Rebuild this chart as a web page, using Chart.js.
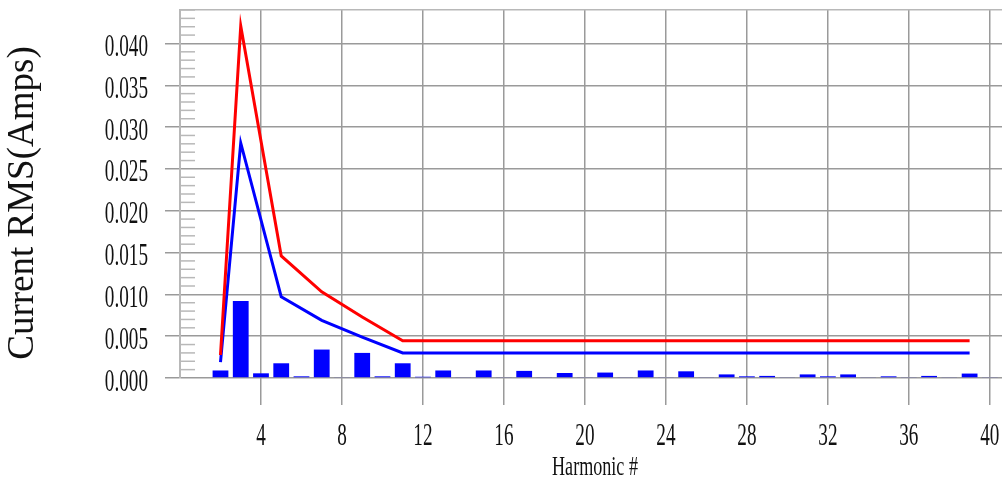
<!DOCTYPE html>
<html>
<head>
<meta charset="utf-8">
<script src="https://cdn.jsdelivr.net/npm/chart.js@4.4.1/dist/chart.umd.min.js"></script>
<style>
  html, body { margin: 0; padding: 0; background: #fff; }
  #wrap { width: 1002px; height: 485px; position: relative; }
</style>
</head>
<body>
<div id="wrap"><canvas id="harmonicChart"></canvas></div>
<script>
// harmonic numbers and measured current (bars)
const harmonics = [2, 3, 4, 5, 6, 7, 8, 9, 10, 11, 12, 13, 14, 15, 16, 17, 18, 19, 20, 21,
  22, 23, 24, 25, 26, 27, 28, 29, 30, 31, 32, 33, 34, 35, 36, 37, 38, 39, 40];
const measured = [0.0009, 0.0092, 0.00056, 0.00176, 0.0002, 0.0034, 0.00008, 0.003, 0.0002, 0.00176,
  0.00015, 0.0009, 0.0001, 0.0009, 0.0001, 0.00085, 0.0001, 0.0006, 0.0001, 0.00065,
  0.0001, 0.0009, 0.0001, 0.0008, 0.0001, 0.00043, 0.0002, 0.00025, 0.0001, 0.00043,
  0.0002, 0.00043, 0.0001, 0.0002, 0.0001, 0.00025, 0.0001, 0.00053, 0.0001];

// limit lines
const limitHarmonics = [2, 3, 5, 7, 9, 11, 13, 15, 17, 19, 21, 23, 25, 27, 29, 31, 33, 35, 37, 39];
const redLimit = [0.00275, 0.0421, 0.0146, 0.0103, 0.0073, 0.00445, 0.00445, 0.00445, 0.00445, 0.00445,
  0.00445, 0.00445, 0.00445, 0.00445, 0.00445, 0.00445, 0.00445, 0.00445, 0.00445, 0.00445];
const blueLimit = [0.0019, 0.0281, 0.0097, 0.0069, 0.0049, 0.003, 0.003, 0.003, 0.003, 0.003,
  0.003, 0.003, 0.003, 0.003, 0.003, 0.003, 0.003, 0.003, 0.003, 0.003];

// axis ticks
const xTickValues = [4, 8, 12, 16, 20, 24, 28, 32, 36, 40];
const yTickValues = [0, 0.005, 0.01, 0.015, 0.02, 0.025, 0.03, 0.035, 0.04];
const yMax = 0.044;
const xMax = 40.6;

const gridGray = "#9a9a9a";
const lightGray = "#b8b8b8";
const serif = '"Liberation Serif", "Times New Roman", serif';

function toPoints(xs, ys) {
  return xs.map(function(x, i) {
    return { x: x, y: ys[i] };
  });
}

// text and minor ticks, drawn narrow like the original
const axisTextPlugin = {
  id: "axisText",
  beforeDatasetsDraw(chart) {
    const ctx = chart.ctx;
    const yScale = chart.scales.y;
    const area = chart.chartArea;
    ctx.save();
    ctx.strokeStyle = lightGray;
    ctx.lineWidth = 1.5;
    for (let i = 1; i <= 44; i++) {
      if (i % 5 === 0) continue;
      const y = yScale.getPixelForValue(i / 1000);
      ctx.beginPath();
      ctx.moveTo(area.left, y);
      ctx.lineTo(area.left + 15, y);
      ctx.stroke();
    }
    ctx.restore();
  },
  afterDraw(chart) {
    const ctx = chart.ctx;
    const xScale = chart.scales.x;
    const yScale = chart.scales.y;
    ctx.save();
    ctx.fillStyle = "#111";

    // y tick labels
    ctx.font = "32px " + serif;
    ctx.textAlign = "right";
    ctx.textBaseline = "alphabetic";
    yTickValues.forEach(function(v) {
      const y = yScale.getPixelForValue(v);
      ctx.save();
      ctx.translate(148, y + 12.5);
      ctx.scale(0.6, 1);
      ctx.fillText(v.toFixed(3), 0, 0);
      ctx.restore();
    });

    // x tick labels
    ctx.textAlign = "center";
    xTickValues.forEach(function(v) {
      const x = xScale.getPixelForValue(v);
      ctx.save();
      ctx.translate(x, 445);
      ctx.scale(0.6, 1);
      ctx.fillText(String(v), 0, 0);
      ctx.restore();
    });

    // x title
    ctx.save();
    ctx.font = "27px " + serif;
    ctx.translate(595, 475);
    ctx.scale(0.67, 1);
    ctx.fillText("Harmonic #", 0, 0);
    ctx.restore();

    // y title
    ctx.save();
    ctx.font = "37px " + serif;
    ctx.translate(33, 203);
    ctx.rotate(-Math.PI / 2);
    ctx.fillText("Current RMS(Amps)", 0, 0);
    ctx.restore();

    ctx.restore();
  }
};

const ctx = document.getElementById("harmonicChart").getContext("2d");

new Chart(ctx, {
  type: "bar",
  data: {
    datasets: [
      {
        type: "line",
        label: "Limit A",
        data: toPoints(limitHarmonics, redLimit),
        borderColor: "#ff0000",
        borderWidth: 3,
        pointRadius: 0,
        tension: 0,
        order: 0
      },
      {
        type: "line",
        label: "Limit B",
        data: toPoints(limitHarmonics, blueLimit),
        borderColor: "#0000ff",
        borderWidth: 3,
        pointRadius: 0,
        tension: 0,
        order: 1
      },
      {
        type: "bar",
        label: "Measured",
        data: toPoints(harmonics, measured),
        backgroundColor: "#0000ff",
        borderWidth: 0,
        barPercentage: 0.78,
        categoryPercentage: 1.0,
        order: 2
      }
    ]
  },
  options: {
    responsive: true,
    maintainAspectRatio: false,
    animation: false,
    layout: {
      padding: { left: 0, right: 0, top: 10, bottom: 0 }
    },
    plugins: {
      legend: { display: false },
      tooltip: { enabled: false }
    },
    scales: {
      x: {
        type: "linear",
        min: 0,
        max: xMax,
        offset: false,
        afterBuildTicks: function(scale) {
          scale.ticks = xTickValues.map(function(v) { return { value: v }; });
        },
        afterFit: function(scale) {
          scale.height = 107;
        },
        ticks: { display: false },
        grid: {
          offset: false,
          color: gridGray,
          lineWidth: 1.5,
          tickLength: 27,
          tickColor: gridGray,
          tickWidth: 1.5
        },
        border: { display: false }
      },
      y: {
        type: "linear",
        min: 0,
        max: yMax,
        afterBuildTicks: function(scale) {
          scale.ticks = yTickValues.concat([yMax]).map(function(v) { return { value: v }; });
        },
        afterFit: function(scale) {
          scale.width = 180;
        },
        ticks: { display: false },
        grid: {
          color: function(c) {
            return c.tick && c.tick.value === yMax ? lightGray : gridGray;
          },
          lineWidth: 1.5,
          tickLength: 15,
          tickColor: function(c) {
            return c.tick && c.tick.value === yMax ? "rgba(0,0,0,0)" : gridGray;
          },
          tickWidth: 1.5
        },
        border: { display: true, color: lightGray, width: 2 }
      }
    }
  },
  plugins: [axisTextPlugin]
});
</script>
</body>
</html>
